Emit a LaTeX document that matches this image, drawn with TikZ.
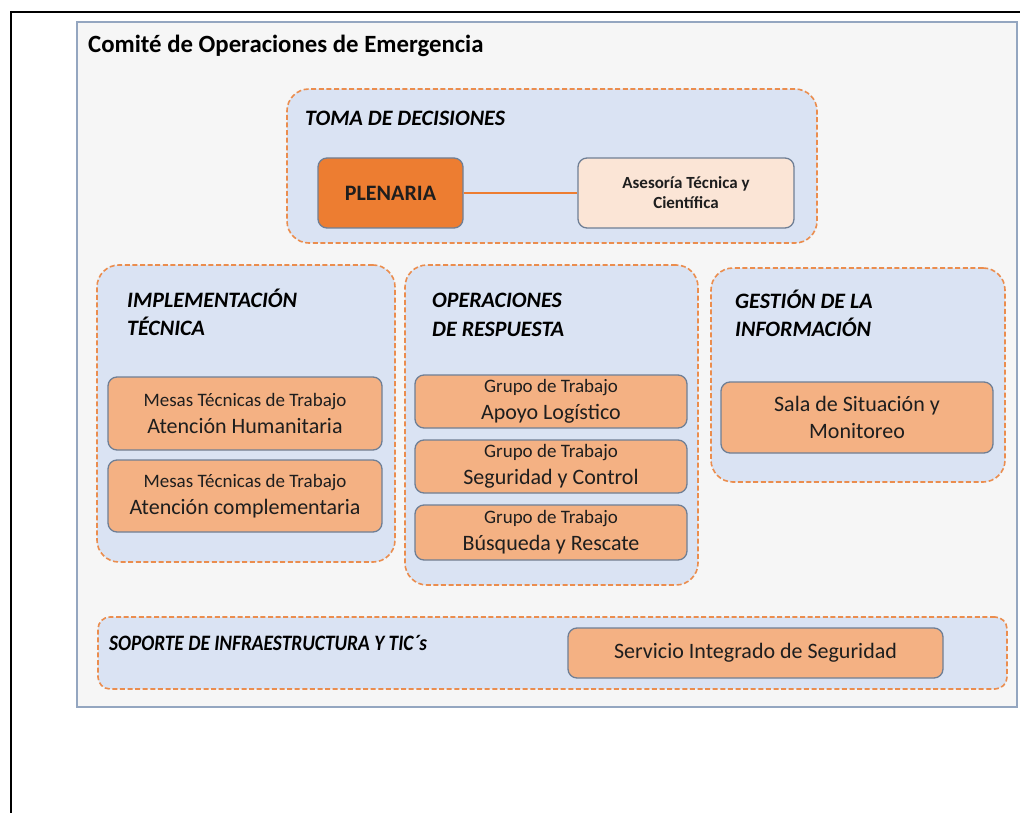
\documentclass[tikz,border=0pt]{standalone}
\usepackage{fontspec}
\setmainfont{Carlito}
\newfontfamily\narrowfont[FakeStretch=0.88]{Carlito}
\definecolor{panelbg}{HTML}{F6F6F6}
\definecolor{panelbd}{HTML}{94A6C0}
\definecolor{groupbg}{HTML}{DAE3F3}
\definecolor{groupbd}{HTML}{EB8D4E}
\definecolor{boxbg}{HTML}{F4B183}
\definecolor{boxbd}{HTML}{6F7F95}
\definecolor{plenbg}{HTML}{ED7D31}
\definecolor{asesbg}{HTML}{FBE5D6}
\definecolor{txt}{HTML}{1E1E1E}
\tikzset{
  panelbox/.style={draw=panelbd, line width=1.5pt, fill=panelbg, inner sep=0pt, outer sep=0pt},
  groupbox/.style={draw=groupbd, line width=1.6pt, dash pattern=on 5pt off 2.6pt, fill=groupbg, rounded corners=22pt, inner sep=0pt},
  itembox/.style={draw=boxbd, line width=1.3pt, fill=boxbg, rounded corners=9pt, inner sep=0pt, align=center, text=txt,
     font=\fontsize{22}{27}\selectfont},
  grouptitle/.style={anchor=base west, inner sep=0pt, text=black, font=\fontsize{22}{26}\selectfont\bfseries\itshape},
  conn/.style={draw=plenbg, line width=2pt}
}
\newcommand{\firstline}[1]{{\fontsize{19}{27}\selectfont #1}}
\begin{document}
\begin{tikzpicture}[x=1pt,y=-1pt]
\useasboundingbox (0,0) rectangle (1020,813);
\fill[white] (0,0) rectangle (1020,813);
% outer frame lines
\draw[line width=2pt] (11,11) -- (11,813);
\draw[line width=2pt] (10,12) -- (60,12);
\draw[line width=1.1pt] (60,12) -- (1020,12);
% panel
\node[panelbox, minimum width=940pt, minimum height=685pt] (panel) at (547,364.5) {};
\node[anchor=base west, inner sep=0pt, font=\fontsize{24.8}{28}\selectfont\bfseries] (title) at (88,53) {Comité de Operaciones de Emergencia};
% groups
\node[groupbox, minimum width=530pt, minimum height=154pt] (toma) at (552,166) {};
\node[groupbox, minimum width=298pt, minimum height=297pt] (impl) at (246,413.5) {};
\node[groupbox, minimum width=293pt, minimum height=320pt] (oper) at (551.5,425) {};
\node[groupbox, minimum width=294pt, minimum height=214pt] (gest) at (858,375) {};
\node[groupbox, rounded corners=12pt, minimum width=909pt, minimum height=72pt] (sop) at (552.5,653) {};
% group titles
\node[grouptitle] (tomaT) at (305,126) {TOMA DE DECISIONES};
\node[grouptitle] (implT1) at (127,307) {IMPLEMENTACIÓN};
\node[grouptitle] (implT2) at (127,335) {TÉCNICA};
\node[grouptitle] (operT1) at (432,307) {OPERACIONES};
\node[grouptitle] (operT2) at (432,336) {DE RESPUESTA};
\node[grouptitle] (gestT1) at (735,308) {GESTIÓN DE LA};
\node[grouptitle] (gestT2) at (735,336) {INFORMACIÓN};
\node[grouptitle, font=\fontsize{22}{26}\narrowfont\bfseries\itshape] (sopT) at (109,650) {SOPORTE DE INFRAESTRUCTURA Y TIC´s};
% items
\node[itembox, fill=plenbg, minimum width=145pt, minimum height=70pt, font=\fontsize{22}{27}\selectfont\bfseries] (plen) at (390.5,193) {PLENARIA};
\node[itembox, fill=asesbg, minimum width=216pt, minimum height=70pt, font=\fontsize{17}{20}\selectfont\bfseries] (ases) at (686,193) {Asesoría Técnica y\\Científica};
\draw[conn] (plen) -- (ases);
\node[itembox, minimum width=274pt, minimum height=73pt] (mesas1) at (245,413.5) {\firstline{Mesas Técnicas de Trabajo}\\Atención Humanitaria};
\node[itembox, minimum width=274pt, minimum height=72pt] (mesas2) at (245,496) {\firstline{Mesas Técnicas de Trabajo}\\Atención complementaria};
\node[itembox, minimum width=272pt, minimum height=53pt] (grupo1) at (551,401.5) {\firstline{Grupo de Trabajo}\\Apoyo Logístico};
\node[itembox, minimum width=272pt, minimum height=53pt] (grupo2) at (551,466.5) {\firstline{Grupo de Trabajo}\\Seguridad y Control};
\node[itembox, minimum width=272pt, minimum height=55pt] (grupo3) at (551,532.5) {\firstline{Grupo de Trabajo}\\Búsqueda y Rescate};
\node[itembox, minimum width=272pt, minimum height=71pt] (sala) at (857,417.5) {Sala de Situación y\\Monitoreo};
\node[itembox, minimum width=375pt, minimum height=50pt] (serv) at (755.5,653) {Servicio Integrado de Seguridad};
\end{tikzpicture}
\end{document}
